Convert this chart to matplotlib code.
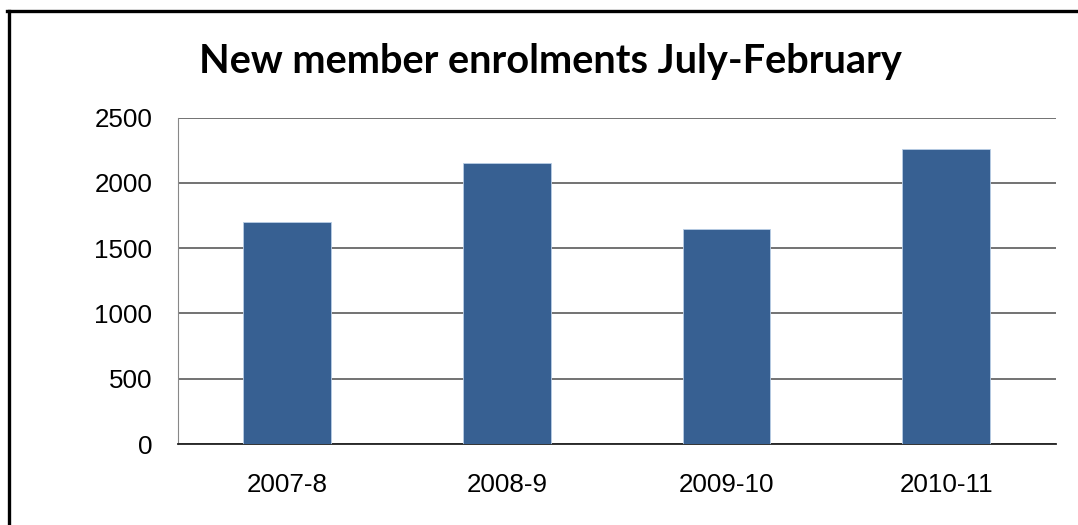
import matplotlib
matplotlib.use("Agg")
import matplotlib.pyplot as plt
from matplotlib.lines import Line2D

categories = ["2007-8", "2008-9", "2009-10", "2010-11"]
enrolments = [1700, 2150, 1650, 2255]
yticks = [0, 500, 1000, 1500, 2000, 2500]

W, H = 1078, 525
fig = plt.figure(figsize=(W / 100, H / 100), dpi=100)
ax = fig.add_axes([177.5 / W, 1 - 444 / H, (1056 - 177.5) / W, (444 - 117.5) / H])

x = list(range(len(categories)))
ax.bar(x, enrolments, width=0.4, color="#376092", edgecolor="#b9cde5", linewidth=0.6, zorder=3)
ax.set_xlim(-0.5, len(categories) - 0.5)
ax.set_ylim(0, 2500)
ax.set_yticks(yticks)
ax.set_xticks(x)
ax.set_xticklabels(categories)
ax.yaxis.grid(True, color="#5a5a5a", linewidth=1.2, zorder=0)
ax.set_axisbelow(True)
for s in ["top", "right"]:
    ax.spines[s].set_visible(False)
ax.spines["left"].set_color("#888888")
ax.spines["bottom"].set_color("#222222")
ax.spines["bottom"].set_linewidth(1.3)
ax.tick_params(axis="both", length=0, labelsize=18.7)
ax.tick_params(axis="y", pad=18)
ax.tick_params(axis="x", pad=21)
for lab in ax.get_xticklabels() + ax.get_yticklabels():
    lab.set_fontfamily("Liberation Sans")

fig.text(550 / W, 1 - 61 / H, "New member enrolments July-February", ha="center", va="center",
         fontsize=28.6, fontweight="bold", family="Lato")

# outer border (left and top edges)
fig.add_artist(Line2D([8.5 / W, 8.5 / W], [0, 1 - 10.5 / H], transform=fig.transFigure, color="black", linewidth=2.4))
fig.add_artist(Line2D([7.3 / W, 1], [1 - 10.5 / H, 1 - 10.5 / H], transform=fig.transFigure, color="black", linewidth=2.4))

fig.savefig("out.png", dpi=100)
